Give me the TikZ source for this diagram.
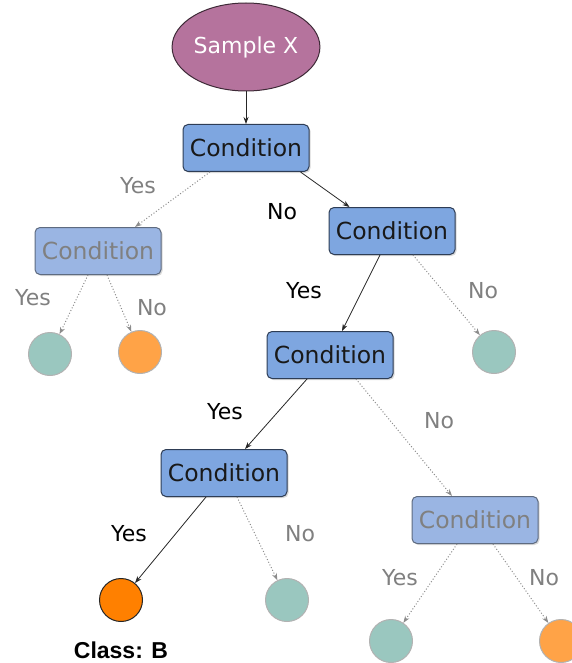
\documentclass[tikz,border=0pt]{standalone}
\usepackage{fontspec}
\setmainfont{DejaVu Sans}
\newfontfamily\classfont{Liberation Sans}
\usetikzlibrary{arrows.meta,shadows,shapes.geometric}

\definecolor{sampleFill}{HTML}{B5739D}
\definecolor{sampleDraw}{HTML}{3E2A37}
\definecolor{condFill}{HTML}{7EA6E0}
\definecolor{condDraw}{HTML}{2E3D55}
\definecolor{fadeFill}{HTML}{9AB5E3}
\definecolor{fadeDraw}{HTML}{5E6B80}
\definecolor{tealFill}{HTML}{9AC7BF}
\definecolor{orangeFill}{HTML}{FFA347}
\definecolor{classFill}{HTML}{FF8000}

\begin{document}
\begin{tikzpicture}[
    x=1pt, y=-1pt,
    cond/.style={draw=condDraw, fill=condFill, line width=1pt, rounded corners=5pt,
      minimum width=126pt, minimum height=47pt, text=black!90,
      font=\fontsize{23.5}{26}\selectfont,
      drop shadow={shadow xshift=1.5pt, shadow yshift=-1.5pt, opacity=0.3}},
    faded/.style={cond, draw=fadeDraw, fill=fadeFill, text=black!50},
    leaf/.style={circle, draw=black!30, line width=1pt, minimum size=43pt, inner sep=0pt},
    lbl/.style={font=\fontsize{22}{24}\selectfont, inner sep=0pt},
    yes/.style={-{Stealth[length=7pt, width=5pt]}, line width=0.8pt, black!85},
    maybe/.style={-{Stealth[length=7pt, width=5pt]}, line width=1pt, black!45,
      dash pattern=on 1pt off 2pt},
  ]
  \useasboundingbox (0,0) rectangle (572,663);

  % --- root ---
  \node[ellipse, draw=sampleDraw, fill=sampleFill, line width=1pt,
        minimum width=126pt, minimum height=88pt, inner sep=0pt, text=white,
        font=\fontsize{22}{24}\selectfont] (smp) at (246,47) {Sample X};

  % --- condition nodes ---
  \node[cond]  (c1) at (246,148) {Condition};
  \node[faded] (cl) at (98,251)  {Condition};
  \node[cond]  (c2) at (392,231) {Condition};
  \node[cond]  (c3) at (330,355) {Condition};
  \node[cond]  (c4) at (224,473) {Condition};
  \node[faded] (c5) at (475,520) {Condition};

  % --- leaves ---
  \node[leaf, fill=tealFill]   (la) at (50,354)  {};
  \node[leaf, fill=orangeFill] (lb) at (140,352) {};
  \node[leaf, fill=tealFill]   (lc) at (494,352) {};
  \node[leaf, fill=classFill, draw=black!85] (ld) at (121,600) {};
  \node[leaf, fill=tealFill]   (le) at (287,600) {};
  \node[leaf, fill=tealFill]   (lf) at (391,641) {};
  \node[leaf, fill=orangeFill] (lg) at (561,641) {};

  \node[font=\classfont\bfseries\fontsize{23}{25}\selectfont, inner sep=0pt] (cls) at (121,650) {Class: B};

  % --- connectors ---
  \draw[yes]   (smp.south) -- (c1.north);
  \draw[yes]   ([xshift=-9pt]c1.south east) -- ([xshift=21pt]c2.north west);
  \draw[maybe] ([xshift=-36pt]c1.south) -- ([xshift=37pt]cl.north);
  \draw[maybe] ([xshift=-10pt]cl.south) -- (la);
  \draw[maybe] ([xshift=9pt]cl.south) -- (lb);
  \draw[yes]   ([xshift=-12pt]c2.south) -- ([xshift=12pt]c3.north);
  \draw[maybe] ([xshift=21pt]c2.south) -- (lc);
  \draw[yes]   ([xshift=-23pt]c3.south) -- ([xshift=21pt]c4.north);
  \draw[maybe] ([xshift=26pt]c3.south) -- ([xshift=-23pt]c5.north);
  \draw[yes]   ([xshift=-18pt]c4.south) -- (ld);
  \draw[maybe] ([xshift=13pt]c4.south) -- (le);
  \draw[maybe] ([xshift=-18pt]c5.south) -- (lf);
  \draw[maybe] ([xshift=18pt]c5.south) -- (lg);

  % --- edge labels ---
  \node[lbl, text=black!50] (y1) at (138,186) {Yes};
  \node[lbl]                (n1) at (282,212) {No};
  \node[lbl, text=black!50] (y2) at (33,298)  {Yes};
  \node[lbl, text=black!50] (n2) at (152,308) {No};
  \node[lbl]                (y3) at (304,291) {Yes};
  \node[lbl, text=black!50] (n3) at (483,291) {No};
  \node[lbl]                (y4) at (225,412) {Yes};
  \node[lbl, text=black!50] (n4) at (439,421) {No};
  \node[lbl]                (y5) at (129,534) {Yes};
  \node[lbl, text=black!50] (n5) at (300,534) {No};
  \node[lbl, text=black!50] (y6) at (400,578) {Yes};
  \node[lbl, text=black!50] (n6) at (544,578) {No};

\end{tikzpicture}
\end{document}
